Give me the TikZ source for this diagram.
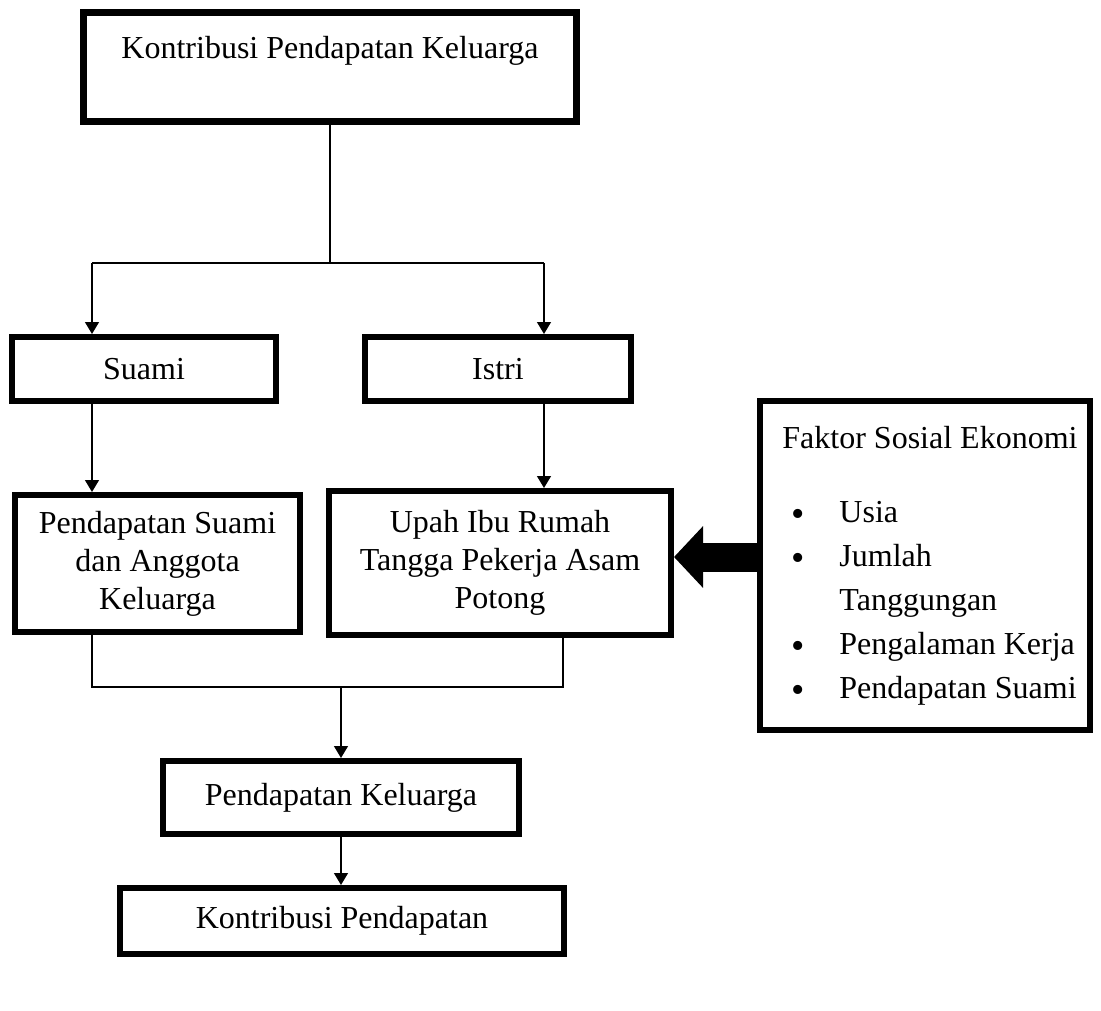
\documentclass[tikz,border=0pt]{standalone}
\usepackage{fontspec}
\setmainfont{Liberation Serif}
\usepackage{tikz}
\usetikzlibrary{arrows.meta}

\newcommand{\fitem}{\makebox[67pt][l]{\hspace{19pt}\raisebox{-4pt}{\fontsize{38}{44}\selectfont\textbullet}}}

\tikzset{
  flowbox/.style={draw, line width=6pt, inner sep=0pt, align=center,
    font=\fontsize{32}{38}\selectfont},
  link/.style={line width=1.4pt},
  conn/.style={link, -{Triangle[length=12pt,width=14pt]}},
  bigarrow/.style={line width=29pt, -{Triangle[length=29pt,width=60pt]}}
}

\begin{document}
\begin{tikzpicture}[x=1pt,y=-1pt]
  \path[use as bounding box, fill=white] (0,0) rectangle (1101,1010);

  % boxes
  \node[flowbox, line width=7pt, minimum width=493pt, minimum height=109pt,
    font=\fontsize{32}{40}\selectfont]
    (kpk) at (330,67) {Kontribusi Pendapatan Keluarga\\ ~};
  \node[flowbox, minimum width=264pt, minimum height=64pt] (suami) at (144,369) {Suami};
  \node[flowbox, minimum width=266pt, minimum height=64pt] (istri) at (498,369) {Istri};
  \node[flowbox, minimum width=285pt, minimum height=137pt]
    (pendSuami) at (157.5,563.5) {Pendapatan Suami\\dan Anggota\\Keluarga};
  \node[flowbox, minimum width=342pt, minimum height=144pt]
    (upah) at (500,563) {Upah Ibu Rumah\\Tangga Pekerja Asam\\Potong};
  \node[flowbox, minimum width=330pt, minimum height=329pt, align=left,
    font=\fontsize{32}{44}\selectfont] (faktor) at (925,565.5) {%
    \hspace*{10pt}Faktor Sosial Ekonomi\\[30pt]
    \fitem Usia\\
    \fitem Jumlah\\
    \hspace*{67pt}Tanggungan\\
    \fitem Pengalaman Kerja\\
    \fitem Pendapatan Suami};
  \node[flowbox, minimum width=356pt, minimum height=73pt]
    (pendKeluarga) at (341,797.5) {Pendapatan Keluarga};
  \node[flowbox, minimum width=444pt, minimum height=66pt]
    (kontribusi) at (342,921) {Kontribusi Pendapatan};

  % split and join points
  \coordinate (splitL) at (92,263);
  \coordinate (splitR) at (544,263);
  \coordinate (joinL) at (92,687);
  \coordinate (joinR) at (563,687);

  % connectors
  \draw[link] (kpk.south) -- (kpk.south |- splitL);
  \draw[link] (splitL) -- (splitR);
  \draw[conn] (splitL) -- (splitL |- suami.north);
  \draw[conn] (splitR) -- (splitR |- istri.north);
  \draw[conn] (suami.south -| splitL) -- (pendSuami.north -| splitL);
  \draw[conn] (istri.south -| splitR) -- (upah.north -| splitR);
  \draw[link] (pendSuami.south -| joinL) -- (joinL) -- (joinR) -- (upah.south -| joinR);
  \draw[conn] (pendKeluarga.north |- joinL) -- (pendKeluarga.north);
  \draw[conn] (pendKeluarga.south) -- (kontribusi.north -| pendKeluarga.south);
  \draw[bigarrow] ([yshift=8.5pt]faktor.west) -- ([yshift=8.5pt]faktor.west -| upah.east);
\end{tikzpicture}
\end{document}
